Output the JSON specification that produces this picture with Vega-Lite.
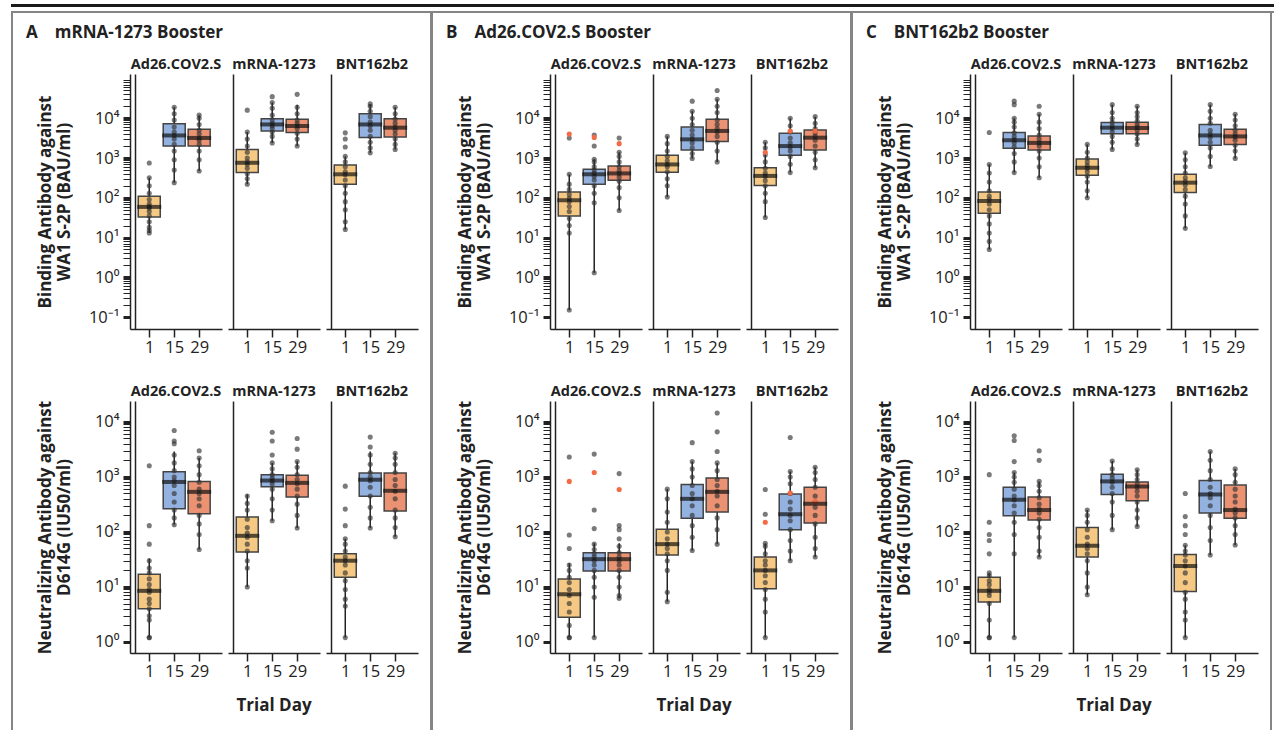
{
"$schema":"https://vega.github.io/schema/vega-lite/v6.json",
"background":"white",
"padding":{"left":11,"top":4,"right":0,"bottom":0},
"datasets":{
"AB":[
{"p":"Ad","d":1,"lo":13,"q1":33,"md":59,"q3":110,"hi":320},
{"p":"Ad","d":15,"lo":240,"q1":2000,"md":3700,"q3":7300,"hi":19000},
{"p":"Ad","d":29,"lo":470,"q1":2000,"md":3200,"q3":5300,"hi":12000},
{"p":"mR","d":1,"lo":220,"q1":430,"md":760,"q3":1650,"hi":4500},
{"p":"mR","d":15,"lo":2400,"q1":4800,"md":7000,"q3":9800,"hi":25000},
{"p":"mR","d":29,"lo":2000,"q1":4400,"md":6400,"q3":9400,"hi":22000},
{"p":"BN","d":1,"lo":16,"q1":220,"md":390,"q3":670,"hi":1100},
{"p":"BN","d":15,"lo":1350,"q1":3300,"md":7000,"q3":13000,"hi":23000},
{"p":"BN","d":29,"lo":1650,"q1":3400,"md":5800,"q3":9800,"hi":19000},
{"p":"Ad","d":1,"v":13,"k":3},{"p":"Ad","d":1,"v":15,"k":6},{"p":"Ad","d":1,"v":18,"k":1},{"p":"Ad","d":1,"v":25,"k":4},{"p":"Ad","d":1,"v":35,"k":0},{"p":"Ad","d":1,"v":45,"k":7},{"p":"Ad","d":1,"v":55,"k":2},{"p":"Ad","d":1,"v":60,"k":5},{"p":"Ad","d":1,"v":70,"k":3},{"p":"Ad","d":1,"v":90,"k":6},{"p":"Ad","d":1,"v":130,"k":1},{"p":"Ad","d":1,"v":200,"k":4},{"p":"Ad","d":1,"v":320,"k":0},{"p":"Ad","d":1,"v":750,"k":7},
{"p":"Ad","d":15,"v":240,"k":3},{"p":"Ad","d":15,"v":500,"k":6},{"p":"Ad","d":15,"v":900,"k":1},{"p":"Ad","d":15,"v":1500,"k":4},{"p":"Ad","d":15,"v":2200,"k":0},{"p":"Ad","d":15,"v":3000,"k":7},{"p":"Ad","d":15,"v":3700,"k":2},{"p":"Ad","d":15,"v":4500,"k":5},{"p":"Ad","d":15,"v":6000,"k":3},{"p":"Ad","d":15,"v":9000,"k":6},{"p":"Ad","d":15,"v":13000,"k":1},{"p":"Ad","d":15,"v":19000,"k":4},
{"p":"Ad","d":29,"v":470,"k":3},{"p":"Ad","d":29,"v":900,"k":6},{"p":"Ad","d":29,"v":1500,"k":1},{"p":"Ad","d":29,"v":2200,"k":4},{"p":"Ad","d":29,"v":2800,"k":0},{"p":"Ad","d":29,"v":3200,"k":7},{"p":"Ad","d":29,"v":4000,"k":2},{"p":"Ad","d":29,"v":5000,"k":5},{"p":"Ad","d":29,"v":7000,"k":3},{"p":"Ad","d":29,"v":10000,"k":6},{"p":"Ad","d":29,"v":12000,"k":1},
{"p":"mR","d":1,"v":220,"k":3},{"p":"mR","d":1,"v":300,"k":6},{"p":"mR","d":1,"v":400,"k":1},{"p":"mR","d":1,"v":550,"k":4},{"p":"mR","d":1,"v":700,"k":0},{"p":"mR","d":1,"v":800,"k":7},{"p":"mR","d":1,"v":1000,"k":2},{"p":"mR","d":1,"v":1400,"k":5},{"p":"mR","d":1,"v":2000,"k":3},{"p":"mR","d":1,"v":3000,"k":6},{"p":"mR","d":1,"v":4500,"k":1},{"p":"mR","d":1,"v":16000,"k":4},
{"p":"mR","d":15,"v":2400,"k":3},{"p":"mR","d":15,"v":3500,"k":6},{"p":"mR","d":15,"v":4500,"k":1},{"p":"mR","d":15,"v":5500,"k":4},{"p":"mR","d":15,"v":6500,"k":0},{"p":"mR","d":15,"v":7500,"k":7},{"p":"mR","d":15,"v":9000,"k":2},{"p":"mR","d":15,"v":12000,"k":5},{"p":"mR","d":15,"v":18000,"k":3},{"p":"mR","d":15,"v":25000,"k":6},{"p":"mR","d":15,"v":35000,"k":1},
{"p":"mR","d":29,"v":2000,"k":3},{"p":"mR","d":29,"v":3000,"k":6},{"p":"mR","d":29,"v":4200,"k":1},{"p":"mR","d":29,"v":5500,"k":4},{"p":"mR","d":29,"v":6500,"k":0},{"p":"mR","d":29,"v":7500,"k":7},{"p":"mR","d":29,"v":9000,"k":2},{"p":"mR","d":29,"v":13000,"k":5},{"p":"mR","d":29,"v":19000,"k":3},{"p":"mR","d":29,"v":40000,"k":6},
{"p":"BN","d":1,"v":16,"k":3},{"p":"BN","d":1,"v":25,"k":6},{"p":"BN","d":1,"v":50,"k":1},{"p":"BN","d":1,"v":80,"k":4},{"p":"BN","d":1,"v":130,"k":0},{"p":"BN","d":1,"v":200,"k":7},{"p":"BN","d":1,"v":280,"k":2},{"p":"BN","d":1,"v":380,"k":5},{"p":"BN","d":1,"v":450,"k":3},{"p":"BN","d":1,"v":600,"k":6},{"p":"BN","d":1,"v":800,"k":1},{"p":"BN","d":1,"v":1100,"k":4},{"p":"BN","d":1,"v":1900,"k":0},{"p":"BN","d":1,"v":3000,"k":7},{"p":"BN","d":1,"v":4300,"k":2},
{"p":"BN","d":15,"v":1350,"k":3},{"p":"BN","d":15,"v":1800,"k":6},{"p":"BN","d":15,"v":2500,"k":1},{"p":"BN","d":15,"v":3500,"k":4},{"p":"BN","d":15,"v":5000,"k":0},{"p":"BN","d":15,"v":6500,"k":7},{"p":"BN","d":15,"v":8000,"k":2},{"p":"BN","d":15,"v":11000,"k":5},{"p":"BN","d":15,"v":15000,"k":3},{"p":"BN","d":15,"v":20000,"k":6},{"p":"BN","d":15,"v":23000,"k":1},
{"p":"BN","d":29,"v":1650,"k":3},{"p":"BN","d":29,"v":2200,"k":6},{"p":"BN","d":29,"v":3000,"k":1},{"p":"BN","d":29,"v":4000,"k":4},{"p":"BN","d":29,"v":5000,"k":0},{"p":"BN","d":29,"v":6000,"k":7},{"p":"BN","d":29,"v":7500,"k":2},{"p":"BN","d":29,"v":9500,"k":5},{"p":"BN","d":29,"v":13000,"k":3},{"p":"BN","d":29,"v":19000,"k":6}
],
"AN":[
{"p":"Ad","d":1,"lo":1.2,"q1":4,"md":8.5,"q3":17,"hi":33},
{"p":"Ad","d":15,"lo":135,"q1":265,"md":810,"q3":1240,"hi":2900},
{"p":"Ad","d":29,"lo":48,"q1":215,"md":535,"q3":830,"hi":2200},
{"p":"mR","d":1,"lo":10,"q1":43,"md":85,"q3":187,"hi":480},
{"p":"mR","d":15,"lo":160,"q1":660,"md":860,"q3":1100,"hi":1800},
{"p":"mR","d":29,"lo":118,"q1":430,"md":780,"q3":1070,"hi":1900},
{"p":"BN","d":1,"lo":1.2,"q1":15,"md":30,"q3":40,"hi":75},
{"p":"BN","d":15,"lo":118,"q1":445,"md":890,"q3":1180,"hi":2900},
{"p":"BN","d":29,"lo":82,"q1":240,"md":560,"q3":1180,"hi":2700},
{"p":"Ad","d":1,"v":1.2,"k":3},{"p":"Ad","d":1,"v":1.2,"k":6},{"p":"Ad","d":1,"v":2.5,"k":1},{"p":"Ad","d":1,"v":3,"k":4},{"p":"Ad","d":1,"v":4,"k":0},{"p":"Ad","d":1,"v":5,"k":7},{"p":"Ad","d":1,"v":6,"k":2},{"p":"Ad","d":1,"v":8,"k":5},{"p":"Ad","d":1,"v":9,"k":3},{"p":"Ad","d":1,"v":11,"k":6},{"p":"Ad","d":1,"v":14,"k":1},{"p":"Ad","d":1,"v":18,"k":4},{"p":"Ad","d":1,"v":22,"k":0},{"p":"Ad","d":1,"v":30,"k":7},{"p":"Ad","d":1,"v":60,"k":2},{"p":"Ad","d":1,"v":130,"k":5},{"p":"Ad","d":1,"v":1600,"k":3},
{"p":"Ad","d":15,"v":135,"k":3},{"p":"Ad","d":15,"v":180,"k":6},{"p":"Ad","d":15,"v":250,"k":1},{"p":"Ad","d":15,"v":350,"k":4},{"p":"Ad","d":15,"v":500,"k":0},{"p":"Ad","d":15,"v":700,"k":7},{"p":"Ad","d":15,"v":850,"k":2},{"p":"Ad","d":15,"v":1000,"k":5},{"p":"Ad","d":15,"v":1300,"k":3},{"p":"Ad","d":15,"v":1800,"k":6},{"p":"Ad","d":15,"v":2500,"k":1},{"p":"Ad","d":15,"v":4000,"k":4},{"p":"Ad","d":15,"v":4500,"k":0},{"p":"Ad","d":15,"v":7000,"k":7},
{"p":"Ad","d":29,"v":48,"k":3},{"p":"Ad","d":29,"v":90,"k":6},{"p":"Ad","d":29,"v":140,"k":1},{"p":"Ad","d":29,"v":200,"k":4},{"p":"Ad","d":29,"v":300,"k":0},{"p":"Ad","d":29,"v":400,"k":7},{"p":"Ad","d":29,"v":500,"k":2},{"p":"Ad","d":29,"v":600,"k":5},{"p":"Ad","d":29,"v":800,"k":3},{"p":"Ad","d":29,"v":1100,"k":6},{"p":"Ad","d":29,"v":1600,"k":1},{"p":"Ad","d":29,"v":2200,"k":4},{"p":"Ad","d":29,"v":3000,"k":0},
{"p":"mR","d":1,"v":10,"k":3},{"p":"mR","d":1,"v":22,"k":6},{"p":"mR","d":1,"v":30,"k":1},{"p":"mR","d":1,"v":45,"k":4},{"p":"mR","d":1,"v":60,"k":0},{"p":"mR","d":1,"v":80,"k":7},{"p":"mR","d":1,"v":95,"k":2},{"p":"mR","d":1,"v":120,"k":5},{"p":"mR","d":1,"v":170,"k":3},{"p":"mR","d":1,"v":250,"k":6},{"p":"mR","d":1,"v":330,"k":1},{"p":"mR","d":1,"v":450,"k":4},
{"p":"mR","d":15,"v":160,"k":3},{"p":"mR","d":15,"v":250,"k":6},{"p":"mR","d":15,"v":400,"k":1},{"p":"mR","d":15,"v":600,"k":4},{"p":"mR","d":15,"v":750,"k":0},{"p":"mR","d":15,"v":850,"k":7},{"p":"mR","d":15,"v":950,"k":2},{"p":"mR","d":15,"v":1100,"k":5},{"p":"mR","d":15,"v":1400,"k":3},{"p":"mR","d":15,"v":1800,"k":6},{"p":"mR","d":15,"v":2500,"k":1},{"p":"mR","d":15,"v":4500,"k":4},{"p":"mR","d":15,"v":6500,"k":0},
{"p":"mR","d":29,"v":118,"k":3},{"p":"mR","d":29,"v":200,"k":6},{"p":"mR","d":29,"v":320,"k":1},{"p":"mR","d":29,"v":450,"k":4},{"p":"mR","d":29,"v":600,"k":0},{"p":"mR","d":29,"v":750,"k":7},{"p":"mR","d":29,"v":900,"k":2},{"p":"mR","d":29,"v":1100,"k":5},{"p":"mR","d":29,"v":1500,"k":3},{"p":"mR","d":29,"v":1900,"k":6},{"p":"mR","d":29,"v":3200,"k":1},{"p":"mR","d":29,"v":5000,"k":4},
{"p":"BN","d":1,"v":1.2,"k":3},{"p":"BN","d":1,"v":4.5,"k":6},{"p":"BN","d":1,"v":6,"k":1},{"p":"BN","d":1,"v":9,"k":4},{"p":"BN","d":1,"v":13,"k":0},{"p":"BN","d":1,"v":18,"k":7},{"p":"BN","d":1,"v":25,"k":2},{"p":"BN","d":1,"v":30,"k":5},{"p":"BN","d":1,"v":35,"k":3},{"p":"BN","d":1,"v":45,"k":6},{"p":"BN","d":1,"v":60,"k":1},{"p":"BN","d":1,"v":75,"k":4},{"p":"BN","d":1,"v":130,"k":0},{"p":"BN","d":1,"v":260,"k":7},{"p":"BN","d":1,"v":680,"k":2},
{"p":"BN","d":15,"v":118,"k":3},{"p":"BN","d":15,"v":180,"k":6},{"p":"BN","d":15,"v":280,"k":1},{"p":"BN","d":15,"v":450,"k":4},{"p":"BN","d":15,"v":650,"k":0},{"p":"BN","d":15,"v":850,"k":7},{"p":"BN","d":15,"v":1000,"k":2},{"p":"BN","d":15,"v":1200,"k":5},{"p":"BN","d":15,"v":1700,"k":3},{"p":"BN","d":15,"v":2500,"k":6},{"p":"BN","d":15,"v":3500,"k":1},{"p":"BN","d":15,"v":5300,"k":4},
{"p":"BN","d":29,"v":82,"k":3},{"p":"BN","d":29,"v":120,"k":6},{"p":"BN","d":29,"v":180,"k":1},{"p":"BN","d":29,"v":250,"k":4},{"p":"BN","d":29,"v":400,"k":0},{"p":"BN","d":29,"v":550,"k":7},{"p":"BN","d":29,"v":700,"k":2},{"p":"BN","d":29,"v":900,"k":5},{"p":"BN","d":29,"v":1200,"k":3},{"p":"BN","d":29,"v":1700,"k":6},{"p":"BN","d":29,"v":2200,"k":1},{"p":"BN","d":29,"v":2700,"k":4}
],
"BB":[
{"p":"Ad","d":1,"lo":0.15,"q1":35,"md":87,"q3":140,"hi":390},
{"p":"Ad","d":15,"lo":1.3,"q1":220,"md":390,"q3":520,"hi":930},
{"p":"Ad","d":29,"lo":48,"q1":275,"md":410,"q3":630,"hi":1400},
{"p":"mR","d":1,"lo":105,"q1":440,"md":690,"q3":1170,"hi":3500},
{"p":"mR","d":15,"lo":980,"q1":1600,"md":2950,"q3":6000,"hi":15000},
{"p":"mR","d":29,"lo":800,"q1":2600,"md":4800,"q3":9400,"hi":30000},
{"p":"BN","d":1,"lo":32,"q1":205,"md":355,"q3":570,"hi":2500},
{"p":"BN","d":15,"lo":430,"q1":1170,"md":2000,"q3":4200,"hi":10000},
{"p":"BN","d":29,"lo":570,"q1":1600,"md":3250,"q3":5100,"hi":11000},
{"p":"Ad","d":1,"v":0.15,"k":3},{"p":"Ad","d":1,"v":13,"k":6},{"p":"Ad","d":1,"v":20,"k":1},{"p":"Ad","d":1,"v":30,"k":4},{"p":"Ad","d":1,"v":45,"k":0},{"p":"Ad","d":1,"v":60,"k":7},{"p":"Ad","d":1,"v":80,"k":2},{"p":"Ad","d":1,"v":95,"k":5},{"p":"Ad","d":1,"v":120,"k":3},{"p":"Ad","d":1,"v":160,"k":6},{"p":"Ad","d":1,"v":220,"k":1},{"p":"Ad","d":1,"v":390,"k":4},{"p":"Ad","d":1,"v":3200,"k":3},{"p":"Ad","d":1,"v":4000,"k":2,"r":1},
{"p":"Ad","d":15,"v":1.3,"k":3},{"p":"Ad","d":15,"v":75,"k":6},{"p":"Ad","d":15,"v":130,"k":1},{"p":"Ad","d":15,"v":200,"k":4},{"p":"Ad","d":15,"v":280,"k":0},{"p":"Ad","d":15,"v":350,"k":7},{"p":"Ad","d":15,"v":420,"k":2},{"p":"Ad","d":15,"v":500,"k":5},{"p":"Ad","d":15,"v":600,"k":3},{"p":"Ad","d":15,"v":800,"k":6},{"p":"Ad","d":15,"v":930,"k":1},{"p":"Ad","d":15,"v":2000,"k":4},{"p":"Ad","d":15,"v":3800,"k":3},{"p":"Ad","d":15,"v":3300,"k":5,"r":1},
{"p":"Ad","d":29,"v":48,"k":3},{"p":"Ad","d":29,"v":100,"k":6},{"p":"Ad","d":29,"v":180,"k":1},{"p":"Ad","d":29,"v":260,"k":4},{"p":"Ad","d":29,"v":330,"k":0},{"p":"Ad","d":29,"v":400,"k":7},{"p":"Ad","d":29,"v":480,"k":2},{"p":"Ad","d":29,"v":600,"k":5},{"p":"Ad","d":29,"v":800,"k":3},{"p":"Ad","d":29,"v":1100,"k":6},{"p":"Ad","d":29,"v":1400,"k":1},{"p":"Ad","d":29,"v":3200,"k":4},{"p":"Ad","d":29,"v":2300,"k":2,"r":1},
{"p":"mR","d":1,"v":105,"k":3},{"p":"mR","d":1,"v":200,"k":6},{"p":"mR","d":1,"v":300,"k":1},{"p":"mR","d":1,"v":450,"k":4},{"p":"mR","d":1,"v":600,"k":0},{"p":"mR","d":1,"v":700,"k":7},{"p":"mR","d":1,"v":850,"k":2},{"p":"mR","d":1,"v":1100,"k":5},{"p":"mR","d":1,"v":1500,"k":3},{"p":"mR","d":1,"v":2300,"k":6},{"p":"mR","d":1,"v":3500,"k":1},
{"p":"mR","d":15,"v":980,"k":3},{"p":"mR","d":15,"v":1300,"k":6},{"p":"mR","d":15,"v":1800,"k":1},{"p":"mR","d":15,"v":2400,"k":4},{"p":"mR","d":15,"v":3000,"k":0},{"p":"mR","d":15,"v":3800,"k":7},{"p":"mR","d":15,"v":5000,"k":2},{"p":"mR","d":15,"v":7000,"k":5},{"p":"mR","d":15,"v":10000,"k":3},{"p":"mR","d":15,"v":15000,"k":6},{"p":"mR","d":15,"v":27000,"k":1},
{"p":"mR","d":29,"v":800,"k":3},{"p":"mR","d":29,"v":1500,"k":6},{"p":"mR","d":29,"v":2500,"k":1},{"p":"mR","d":29,"v":3500,"k":4},{"p":"mR","d":29,"v":4500,"k":0},{"p":"mR","d":29,"v":5500,"k":7},{"p":"mR","d":29,"v":7000,"k":2},{"p":"mR","d":29,"v":9000,"k":5},{"p":"mR","d":29,"v":14000,"k":3},{"p":"mR","d":29,"v":20000,"k":6},{"p":"mR","d":29,"v":30000,"k":1},{"p":"mR","d":29,"v":50000,"k":4},
{"p":"BN","d":1,"v":32,"k":3},{"p":"BN","d":1,"v":80,"k":6},{"p":"BN","d":1,"v":130,"k":1},{"p":"BN","d":1,"v":200,"k":4},{"p":"BN","d":1,"v":270,"k":0},{"p":"BN","d":1,"v":350,"k":7},{"p":"BN","d":1,"v":420,"k":2},{"p":"BN","d":1,"v":550,"k":5},{"p":"BN","d":1,"v":800,"k":3},{"p":"BN","d":1,"v":1200,"k":6},{"p":"BN","d":1,"v":1800,"k":1},{"p":"BN","d":1,"v":2500,"k":4},{"p":"BN","d":1,"v":1400,"k":0,"r":1},
{"p":"BN","d":15,"v":430,"k":3},{"p":"BN","d":15,"v":700,"k":6},{"p":"BN","d":15,"v":1100,"k":1},{"p":"BN","d":15,"v":1500,"k":4},{"p":"BN","d":15,"v":1900,"k":0},{"p":"BN","d":15,"v":2400,"k":7},{"p":"BN","d":15,"v":3200,"k":2},{"p":"BN","d":15,"v":4500,"k":5},{"p":"BN","d":15,"v":6500,"k":3},{"p":"BN","d":15,"v":10000,"k":6},{"p":"BN","d":15,"v":4800,"k":1,"r":1},
{"p":"BN","d":29,"v":570,"k":3},{"p":"BN","d":29,"v":900,"k":6},{"p":"BN","d":29,"v":1400,"k":1},{"p":"BN","d":29,"v":2000,"k":4},{"p":"BN","d":29,"v":2800,"k":0},{"p":"BN","d":29,"v":3500,"k":7},{"p":"BN","d":29,"v":4300,"k":2},{"p":"BN","d":29,"v":5500,"k":5},{"p":"BN","d":29,"v":7500,"k":3},{"p":"BN","d":29,"v":11000,"k":6},{"p":"BN","d":29,"v":4800,"k":4,"r":1}
],
"BN":[
{"p":"Ad","d":1,"lo":1.2,"q1":2.8,"md":7.4,"q3":14,"hi":27},
{"p":"Ad","d":15,"lo":1.2,"q1":19.5,"md":32,"q3":42,"hi":62},
{"p":"Ad","d":29,"lo":6.2,"q1":19.5,"md":32,"q3":42,"hi":62},
{"p":"mR","d":1,"lo":5.4,"q1":38,"md":60,"q3":112,"hi":600},
{"p":"mR","d":15,"lo":46,"q1":178,"md":400,"q3":730,"hi":1900},
{"p":"mR","d":29,"lo":60,"q1":230,"md":535,"q3":960,"hi":1800},
{"p":"BN","d":1,"lo":1.2,"q1":9.3,"md":20,"q3":35,"hi":62},
{"p":"BN","d":15,"lo":30,"q1":110,"md":210,"q3":490,"hi":1250},
{"p":"BN","d":29,"lo":35,"q1":145,"md":325,"q3":650,"hi":1500},
{"p":"Ad","d":1,"v":1.2,"k":3},{"p":"Ad","d":1,"v":1.2,"k":6},{"p":"Ad","d":1,"v":2,"k":1},{"p":"Ad","d":1,"v":3.5,"k":4},{"p":"Ad","d":1,"v":5,"k":0},{"p":"Ad","d":1,"v":7,"k":7},{"p":"Ad","d":1,"v":9,"k":2},{"p":"Ad","d":1,"v":12,"k":5},{"p":"Ad","d":1,"v":15,"k":3},{"p":"Ad","d":1,"v":20,"k":6},{"p":"Ad","d":1,"v":25,"k":1},{"p":"Ad","d":1,"v":50,"k":4},{"p":"Ad","d":1,"v":88,"k":0},{"p":"Ad","d":1,"v":2300,"k":7},{"p":"Ad","d":1,"v":830,"k":2,"r":1},
{"p":"Ad","d":15,"v":1.2,"k":3},{"p":"Ad","d":15,"v":6.5,"k":6},{"p":"Ad","d":15,"v":10,"k":1},{"p":"Ad","d":15,"v":15,"k":4},{"p":"Ad","d":15,"v":20,"k":0},{"p":"Ad","d":15,"v":25,"k":7},{"p":"Ad","d":15,"v":30,"k":2},{"p":"Ad","d":15,"v":35,"k":5},{"p":"Ad","d":15,"v":40,"k":3},{"p":"Ad","d":15,"v":48,"k":6},{"p":"Ad","d":15,"v":60,"k":1},{"p":"Ad","d":15,"v":115,"k":4},{"p":"Ad","d":15,"v":250,"k":0},{"p":"Ad","d":15,"v":2600,"k":7},{"p":"Ad","d":15,"v":1200,"k":2,"r":1},
{"p":"Ad","d":29,"v":6.2,"k":3},{"p":"Ad","d":29,"v":7,"k":6},{"p":"Ad","d":29,"v":10,"k":1},{"p":"Ad","d":29,"v":15,"k":4},{"p":"Ad","d":29,"v":20,"k":0},{"p":"Ad","d":29,"v":25,"k":7},{"p":"Ad","d":29,"v":30,"k":2},{"p":"Ad","d":29,"v":35,"k":5},{"p":"Ad","d":29,"v":42,"k":3},{"p":"Ad","d":29,"v":55,"k":6},{"p":"Ad","d":29,"v":75,"k":1},{"p":"Ad","d":29,"v":110,"k":4},{"p":"Ad","d":29,"v":130,"k":0},{"p":"Ad","d":29,"v":1150,"k":7},{"p":"Ad","d":29,"v":590,"k":2,"r":1},
{"p":"mR","d":1,"v":5.4,"k":3},{"p":"mR","d":1,"v":8,"k":6},{"p":"mR","d":1,"v":20,"k":1},{"p":"mR","d":1,"v":30,"k":4},{"p":"mR","d":1,"v":40,"k":0},{"p":"mR","d":1,"v":50,"k":7},{"p":"mR","d":1,"v":60,"k":2},{"p":"mR","d":1,"v":75,"k":5},{"p":"mR","d":1,"v":100,"k":3},{"p":"mR","d":1,"v":150,"k":6},{"p":"mR","d":1,"v":230,"k":1},{"p":"mR","d":1,"v":400,"k":4},{"p":"mR","d":1,"v":600,"k":0},
{"p":"mR","d":15,"v":46,"k":3},{"p":"mR","d":15,"v":80,"k":6},{"p":"mR","d":15,"v":130,"k":1},{"p":"mR","d":15,"v":200,"k":4},{"p":"mR","d":15,"v":300,"k":0},{"p":"mR","d":15,"v":400,"k":7},{"p":"mR","d":15,"v":500,"k":2},{"p":"mR","d":15,"v":700,"k":5},{"p":"mR","d":15,"v":1000,"k":3},{"p":"mR","d":15,"v":1400,"k":6},{"p":"mR","d":15,"v":1900,"k":1},{"p":"mR","d":15,"v":4200,"k":4},
{"p":"mR","d":29,"v":60,"k":3},{"p":"mR","d":29,"v":110,"k":6},{"p":"mR","d":29,"v":180,"k":1},{"p":"mR","d":29,"v":300,"k":4},{"p":"mR","d":29,"v":450,"k":0},{"p":"mR","d":29,"v":550,"k":7},{"p":"mR","d":29,"v":700,"k":2},{"p":"mR","d":29,"v":900,"k":5},{"p":"mR","d":29,"v":1300,"k":3},{"p":"mR","d":29,"v":1800,"k":6},{"p":"mR","d":29,"v":2900,"k":1},{"p":"mR","d":29,"v":6600,"k":4},{"p":"mR","d":29,"v":14500,"k":0},
{"p":"BN","d":1,"v":1.2,"k":3},{"p":"BN","d":1,"v":3.5,"k":6},{"p":"BN","d":1,"v":6,"k":1},{"p":"BN","d":1,"v":9,"k":4},{"p":"BN","d":1,"v":12,"k":0},{"p":"BN","d":1,"v":16,"k":7},{"p":"BN","d":1,"v":20,"k":2},{"p":"BN","d":1,"v":25,"k":5},{"p":"BN","d":1,"v":30,"k":3},{"p":"BN","d":1,"v":40,"k":6},{"p":"BN","d":1,"v":55,"k":1},{"p":"BN","d":1,"v":62,"k":4},{"p":"BN","d":1,"v":210,"k":0},{"p":"BN","d":1,"v":590,"k":7},{"p":"BN","d":1,"v":150,"k":2,"r":1},
{"p":"BN","d":15,"v":30,"k":3},{"p":"BN","d":15,"v":45,"k":6},{"p":"BN","d":15,"v":70,"k":1},{"p":"BN","d":15,"v":110,"k":4},{"p":"BN","d":15,"v":160,"k":0},{"p":"BN","d":15,"v":200,"k":7},{"p":"BN","d":15,"v":260,"k":2},{"p":"BN","d":15,"v":350,"k":5},{"p":"BN","d":15,"v":500,"k":3},{"p":"BN","d":15,"v":750,"k":6},{"p":"BN","d":15,"v":1000,"k":1},{"p":"BN","d":15,"v":1250,"k":4},{"p":"BN","d":15,"v":5200,"k":0},{"p":"BN","d":15,"v":510,"k":7,"r":1},
{"p":"BN","d":29,"v":35,"k":3},{"p":"BN","d":29,"v":50,"k":6},{"p":"BN","d":29,"v":80,"k":1},{"p":"BN","d":29,"v":140,"k":4},{"p":"BN","d":29,"v":200,"k":0},{"p":"BN","d":29,"v":280,"k":7},{"p":"BN","d":29,"v":350,"k":2},{"p":"BN","d":29,"v":450,"k":5},{"p":"BN","d":29,"v":650,"k":3},{"p":"BN","d":29,"v":900,"k":6},{"p":"BN","d":29,"v":1200,"k":1},{"p":"BN","d":29,"v":1500,"k":4},{"p":"BN","d":29,"v":355,"k":0,"r":1}
],
"CB":[
{"p":"Ad","d":1,"lo":5,"q1":41,"md":83,"q3":140,"hi":690},
{"p":"Ad","d":15,"lo":430,"q1":1750,"md":2800,"q3":4400,"hi":10000},
{"p":"Ad","d":29,"lo":320,"q1":1600,"md":2400,"q3":3600,"hi":12600},
{"p":"mR","d":1,"lo":100,"q1":370,"md":570,"q3":940,"hi":2200},
{"p":"mR","d":15,"lo":1650,"q1":4100,"md":5800,"q3":7800,"hi":22000},
{"p":"mR","d":29,"lo":2200,"q1":4100,"md":5700,"q3":7900,"hi":20000},
{"p":"BN","d":1,"lo":17,"q1":135,"md":240,"q3":390,"hi":1350},
{"p":"BN","d":15,"lo":610,"q1":2100,"md":3700,"q3":7000,"hi":22000},
{"p":"BN","d":29,"lo":980,"q1":2200,"md":3500,"q3":5300,"hi":12600},
{"p":"Ad","d":1,"v":5,"k":3},{"p":"Ad","d":1,"v":8,"k":6},{"p":"Ad","d":1,"v":13,"k":1},{"p":"Ad","d":1,"v":22,"k":4},{"p":"Ad","d":1,"v":35,"k":0},{"p":"Ad","d":1,"v":50,"k":7},{"p":"Ad","d":1,"v":70,"k":2},{"p":"Ad","d":1,"v":90,"k":5},{"p":"Ad","d":1,"v":110,"k":3},{"p":"Ad","d":1,"v":150,"k":6},{"p":"Ad","d":1,"v":250,"k":1},{"p":"Ad","d":1,"v":420,"k":4},{"p":"Ad","d":1,"v":690,"k":0},{"p":"Ad","d":1,"v":4400,"k":7},
{"p":"Ad","d":15,"v":430,"k":3},{"p":"Ad","d":15,"v":800,"k":6},{"p":"Ad","d":15,"v":1300,"k":1},{"p":"Ad","d":15,"v":1900,"k":4},{"p":"Ad","d":15,"v":2400,"k":0},{"p":"Ad","d":15,"v":2900,"k":7},{"p":"Ad","d":15,"v":3500,"k":2},{"p":"Ad","d":15,"v":4300,"k":5},{"p":"Ad","d":15,"v":6000,"k":3},{"p":"Ad","d":15,"v":8000,"k":6},{"p":"Ad","d":15,"v":10000,"k":1},{"p":"Ad","d":15,"v":22000,"k":4},{"p":"Ad","d":15,"v":27000,"k":0},
{"p":"Ad","d":29,"v":320,"k":3},{"p":"Ad","d":29,"v":600,"k":6},{"p":"Ad","d":29,"v":1000,"k":1},{"p":"Ad","d":29,"v":1500,"k":4},{"p":"Ad","d":29,"v":2000,"k":0},{"p":"Ad","d":29,"v":2400,"k":7},{"p":"Ad","d":29,"v":3000,"k":2},{"p":"Ad","d":29,"v":3800,"k":5},{"p":"Ad","d":29,"v":5500,"k":3},{"p":"Ad","d":29,"v":8000,"k":6},{"p":"Ad","d":29,"v":12600,"k":1},{"p":"Ad","d":29,"v":20000,"k":4},
{"p":"mR","d":1,"v":100,"k":3},{"p":"mR","d":1,"v":150,"k":6},{"p":"mR","d":1,"v":250,"k":1},{"p":"mR","d":1,"v":350,"k":4},{"p":"mR","d":1,"v":450,"k":0},{"p":"mR","d":1,"v":550,"k":7},{"p":"mR","d":1,"v":650,"k":2},{"p":"mR","d":1,"v":800,"k":5},{"p":"mR","d":1,"v":1000,"k":3},{"p":"mR","d":1,"v":1400,"k":6},{"p":"mR","d":1,"v":2200,"k":1},
{"p":"mR","d":15,"v":1650,"k":3},{"p":"mR","d":15,"v":2500,"k":6},{"p":"mR","d":15,"v":3500,"k":1},{"p":"mR","d":15,"v":4500,"k":4},{"p":"mR","d":15,"v":5500,"k":0},{"p":"mR","d":15,"v":6500,"k":7},{"p":"mR","d":15,"v":8000,"k":2},{"p":"mR","d":15,"v":10000,"k":5},{"p":"mR","d":15,"v":14000,"k":3},{"p":"mR","d":15,"v":22000,"k":6},
{"p":"mR","d":29,"v":2200,"k":3},{"p":"mR","d":29,"v":3000,"k":6},{"p":"mR","d":29,"v":4000,"k":1},{"p":"mR","d":29,"v":5000,"k":4},{"p":"mR","d":29,"v":6000,"k":0},{"p":"mR","d":29,"v":7000,"k":7},{"p":"mR","d":29,"v":8500,"k":2},{"p":"mR","d":29,"v":11000,"k":5},{"p":"mR","d":29,"v":14000,"k":3},{"p":"mR","d":29,"v":20000,"k":6},
{"p":"BN","d":1,"v":17,"k":3},{"p":"BN","d":1,"v":35,"k":6},{"p":"BN","d":1,"v":70,"k":1},{"p":"BN","d":1,"v":110,"k":4},{"p":"BN","d":1,"v":160,"k":0},{"p":"BN","d":1,"v":210,"k":7},{"p":"BN","d":1,"v":260,"k":2},{"p":"BN","d":1,"v":320,"k":5},{"p":"BN","d":1,"v":420,"k":3},{"p":"BN","d":1,"v":600,"k":6},{"p":"BN","d":1,"v":900,"k":1},{"p":"BN","d":1,"v":1350,"k":4},
{"p":"BN","d":15,"v":610,"k":3},{"p":"BN","d":15,"v":1100,"k":6},{"p":"BN","d":15,"v":1800,"k":1},{"p":"BN","d":15,"v":2500,"k":4},{"p":"BN","d":15,"v":3300,"k":0},{"p":"BN","d":15,"v":4000,"k":7},{"p":"BN","d":15,"v":5000,"k":2},{"p":"BN","d":15,"v":7500,"k":5},{"p":"BN","d":15,"v":10000,"k":3},{"p":"BN","d":15,"v":15000,"k":6},{"p":"BN","d":15,"v":22000,"k":1},
{"p":"BN","d":29,"v":980,"k":3},{"p":"BN","d":29,"v":1500,"k":6},{"p":"BN","d":29,"v":2100,"k":1},{"p":"BN","d":29,"v":2800,"k":4},{"p":"BN","d":29,"v":3400,"k":0},{"p":"BN","d":29,"v":4000,"k":7},{"p":"BN","d":29,"v":5000,"k":2},{"p":"BN","d":29,"v":6500,"k":5},{"p":"BN","d":29,"v":9000,"k":3},{"p":"BN","d":29,"v":12600,"k":6}
],
"CN":[
{"p":"Ad","d":1,"lo":1.2,"q1":5.3,"md":8.5,"q3":15,"hi":18},
{"p":"Ad","d":15,"lo":1.2,"q1":196,"md":385,"q3":650,"hi":1200},
{"p":"Ad","d":29,"lo":35,"q1":165,"md":250,"q3":430,"hi":830},
{"p":"mR","d":1,"lo":7.2,"q1":35,"md":56,"q3":120,"hi":250},
{"p":"mR","d":15,"lo":110,"q1":480,"md":830,"q3":1120,"hi":1950},
{"p":"mR","d":29,"lo":126,"q1":370,"md":670,"q3":810,"hi":1350},
{"p":"BN","d":1,"lo":1.2,"q1":8.3,"md":24,"q3":39,"hi":57},
{"p":"BN","d":15,"lo":38,"q1":220,"md":480,"q3":860,"hi":2900},
{"p":"BN","d":29,"lo":58,"q1":178,"md":250,"q3":710,"hi":1400},
{"p":"Ad","d":1,"v":1.2,"k":3},{"p":"Ad","d":1,"v":1.2,"k":6},{"p":"Ad","d":1,"v":2.5,"k":1},{"p":"Ad","d":1,"v":5,"k":4},{"p":"Ad","d":1,"v":7,"k":0},{"p":"Ad","d":1,"v":8,"k":7},{"p":"Ad","d":1,"v":9,"k":2},{"p":"Ad","d":1,"v":11,"k":5},{"p":"Ad","d":1,"v":13,"k":3},{"p":"Ad","d":1,"v":16,"k":6},{"p":"Ad","d":1,"v":18,"k":1},{"p":"Ad","d":1,"v":40,"k":4},{"p":"Ad","d":1,"v":70,"k":0},{"p":"Ad","d":1,"v":90,"k":7},{"p":"Ad","d":1,"v":150,"k":2},{"p":"Ad","d":1,"v":1100,"k":5},
{"p":"Ad","d":15,"v":1.2,"k":3},{"p":"Ad","d":15,"v":40,"k":6},{"p":"Ad","d":15,"v":90,"k":1},{"p":"Ad","d":15,"v":150,"k":4},{"p":"Ad","d":15,"v":220,"k":0},{"p":"Ad","d":15,"v":300,"k":7},{"p":"Ad","d":15,"v":380,"k":2},{"p":"Ad","d":15,"v":450,"k":5},{"p":"Ad","d":15,"v":600,"k":3},{"p":"Ad","d":15,"v":800,"k":6},{"p":"Ad","d":15,"v":1000,"k":1},{"p":"Ad","d":15,"v":1200,"k":4},{"p":"Ad","d":15,"v":1900,"k":0},{"p":"Ad","d":15,"v":4600,"k":7},{"p":"Ad","d":15,"v":5600,"k":2},
{"p":"Ad","d":29,"v":35,"k":3},{"p":"Ad","d":29,"v":45,"k":6},{"p":"Ad","d":29,"v":80,"k":1},{"p":"Ad","d":29,"v":120,"k":4},{"p":"Ad","d":29,"v":170,"k":0},{"p":"Ad","d":29,"v":220,"k":7},{"p":"Ad","d":29,"v":260,"k":2},{"p":"Ad","d":29,"v":320,"k":5},{"p":"Ad","d":29,"v":420,"k":3},{"p":"Ad","d":29,"v":550,"k":6},{"p":"Ad","d":29,"v":700,"k":1},{"p":"Ad","d":29,"v":830,"k":4},{"p":"Ad","d":29,"v":2000,"k":0},{"p":"Ad","d":29,"v":3000,"k":7},
{"p":"mR","d":1,"v":7.2,"k":3},{"p":"mR","d":1,"v":10,"k":6},{"p":"mR","d":1,"v":18,"k":1},{"p":"mR","d":1,"v":30,"k":4},{"p":"mR","d":1,"v":40,"k":0},{"p":"mR","d":1,"v":50,"k":7},{"p":"mR","d":1,"v":60,"k":2},{"p":"mR","d":1,"v":80,"k":5},{"p":"mR","d":1,"v":110,"k":3},{"p":"mR","d":1,"v":150,"k":6},{"p":"mR","d":1,"v":200,"k":1},{"p":"mR","d":1,"v":250,"k":4},
{"p":"mR","d":15,"v":110,"k":3},{"p":"mR","d":15,"v":200,"k":6},{"p":"mR","d":15,"v":350,"k":1},{"p":"mR","d":15,"v":500,"k":4},{"p":"mR","d":15,"v":650,"k":0},{"p":"mR","d":15,"v":800,"k":7},{"p":"mR","d":15,"v":950,"k":2},{"p":"mR","d":15,"v":1100,"k":5},{"p":"mR","d":15,"v":1400,"k":3},{"p":"mR","d":15,"v":1950,"k":6},
{"p":"mR","d":29,"v":126,"k":3},{"p":"mR","d":29,"v":180,"k":6},{"p":"mR","d":29,"v":250,"k":1},{"p":"mR","d":29,"v":350,"k":4},{"p":"mR","d":29,"v":450,"k":0},{"p":"mR","d":29,"v":550,"k":7},{"p":"mR","d":29,"v":650,"k":2},{"p":"mR","d":29,"v":750,"k":5},{"p":"mR","d":29,"v":900,"k":3},{"p":"mR","d":29,"v":1100,"k":6},{"p":"mR","d":29,"v":1350,"k":1},
{"p":"BN","d":1,"v":1.2,"k":3},{"p":"BN","d":1,"v":2.5,"k":6},{"p":"BN","d":1,"v":3.5,"k":1},{"p":"BN","d":1,"v":6,"k":4},{"p":"BN","d":1,"v":8,"k":0},{"p":"BN","d":1,"v":12,"k":7},{"p":"BN","d":1,"v":18,"k":2},{"p":"BN","d":1,"v":24,"k":5},{"p":"BN","d":1,"v":30,"k":3},{"p":"BN","d":1,"v":38,"k":6},{"p":"BN","d":1,"v":45,"k":1},{"p":"BN","d":1,"v":57,"k":4},{"p":"BN","d":1,"v":90,"k":0},{"p":"BN","d":1,"v":130,"k":7},{"p":"BN","d":1,"v":190,"k":2},{"p":"BN","d":1,"v":500,"k":5},
{"p":"BN","d":15,"v":38,"k":3},{"p":"BN","d":15,"v":70,"k":6},{"p":"BN","d":15,"v":120,"k":1},{"p":"BN","d":15,"v":200,"k":4},{"p":"BN","d":15,"v":300,"k":0},{"p":"BN","d":15,"v":420,"k":7},{"p":"BN","d":15,"v":500,"k":2},{"p":"BN","d":15,"v":650,"k":5},{"p":"BN","d":15,"v":900,"k":3},{"p":"BN","d":15,"v":1300,"k":6},{"p":"BN","d":15,"v":2000,"k":1},{"p":"BN","d":15,"v":2900,"k":4},
{"p":"BN","d":29,"v":58,"k":3},{"p":"BN","d":29,"v":90,"k":6},{"p":"BN","d":29,"v":130,"k":1},{"p":"BN","d":29,"v":180,"k":4},{"p":"BN","d":29,"v":220,"k":0},{"p":"BN","d":29,"v":260,"k":7},{"p":"BN","d":29,"v":350,"k":2},{"p":"BN","d":29,"v":450,"k":5},{"p":"BN","d":29,"v":600,"k":3},{"p":"BN","d":29,"v":800,"k":6},{"p":"BN","d":29,"v":1100,"k":1},{"p":"BN","d":29,"v":1400,"k":4}
]
},
"spacing":0,
"vconcat":[
{"spacing":4,"vconcat":[
{"width":1263,"height":3,"data":{"values":[{}]},"mark":{"type":"point","opacity":0,"size":0,"strokeWidth":0},"encoding":{},"view":{"fill":"#1a1a1a","stroke":null}},
{"width":1263,"height":2,"data":{"values":[{}]},"mark":{"type":"point","opacity":0,"size":0,"strokeWidth":0},"encoding":{},"view":{"fill":"#858585","stroke":null}}
]},
{"spacing":12,"hconcat":[
{"width":2,"height":720,"data":{"values":[{}]},"mark":{"type":"point","opacity":0,"size":0,"strokeWidth":0},"encoding":{},"view":{"fill":"#858585","stroke":null}},
{"spacing":0,"vconcat":[
{"width":1,"height":10,"data":{"values":[{}]},"mark":{"type":"point","opacity":0,"size":0,"strokeWidth":0},"encoding":{}},
{"title":{"text":"A\u2003mRNA-1273 Booster"},"spacing":27,"vconcat":[
{"data":{"name":"AB"},"spacing":6,"facet":{"column":{"field":"p","type":"nominal","sort":["Ad","mR","BN"],"title":null,"header":{"labelExpr":"datum.value=='Ad'?'Ad26.COV2.S':datum.value=='mR'?'mRNA-1273':'BNT162b2'"}}},
"spec":{"width":92,"height":255,"resolve":{"axis":{"x":"independent"}},"layer":[
{"transform":[{"filter":"isValid(datum.md)"}],"mark":{"type":"rule","color":"#222","strokeWidth":1.5},"encoding":{"x":{"field":"d","type":"quantitative","scale":{"domain":[-7,39],"nice":false,"zero":false},"axis":{"values":[1,15,29],"title":null,"orient":"bottom"}},"y":{"field":"lo","type":"quantitative","scale":{"type":"log","domain":[0.05,130000],"nice":false},"axis":{"values":[0.1,0.2,0.3,0.4,0.5,0.6,0.7,0.8,0.9,1,2,3,4,5,6,7,8,9,10,20,30,40,50,60,70,80,90,100,200,300,400,500,600,700,800,900,1000,2000,3000,4000,5000,6000,7000,8000,9000,10000,20000,30000,40000,50000,60000,70000,80000,90000],"title":["Binding Antibody against","WA1 S-2P (BAU/ml)"]}},"y2":{"field":"hi"}}},
{"transform":[{"filter":"isValid(datum.md)"}],"mark":{"type":"bar","size":22,"stroke":"#444","strokeWidth":1.5},"encoding":{"x":{"field":"d","type":"quantitative","axis":null},"y":{"field":"q1","type":"quantitative"},"y2":{"field":"q3"},"color":{"field":"d","type":"nominal","scale":{"domain":[1,15,29],"range":["#F5C983","#94B2E0","#EA9272"]},"legend":null}}},
{"transform":[{"filter":"isValid(datum.v)"}],"mark":{"type":"circle","size":26},"encoding":{"x":{"field":"d","type":"quantitative","axis":null},"xOffset":{"field":"k","type":"nominal","scale":{"type":"point","range":[-7,7],"padding":0}},"y":{"field":"v","type":"quantitative"},"color":{"condition":{"test":"datum.r==1","value":"#F26B45"},"value":"#333"},"opacity":{"condition":{"test":"datum.r==1","value":1},"value":0.65}}},
{"transform":[{"filter":"isValid(datum.md)"}],"mark":{"type":"tick","orient":"horizontal","thickness":4,"size":24,"color":"#111"},"encoding":{"x":{"field":"d","type":"quantitative","axis":{"orient":"top","values":[-7],"grid":true,"gridColor":"#222","gridWidth":1.5,"domain":false,"ticks":false,"labels":false,"title":null}},"y":{"field":"md","type":"quantitative"}}}
]}},
{"data":{"name":"AN"},"spacing":6,"facet":{"column":{"field":"p","type":"nominal","sort":["Ad","mR","BN"],"title":"Trial Day","header":{"titleOrient":"bottom","labelOrient":"top","labelExpr":"datum.value=='Ad'?'Ad26.COV2.S':datum.value=='mR'?'mRNA-1273':'BNT162b2'"}}},
"spec":{"width":92,"height":252,"resolve":{"axis":{"x":"independent"}},"layer":[
{"transform":[{"filter":"isValid(datum.md)"}],"mark":{"type":"rule","color":"#222","strokeWidth":1.5},"encoding":{"x":{"field":"d","type":"quantitative","scale":{"domain":[-7,39],"nice":false,"zero":false},"axis":{"values":[1,15,29],"title":null,"orient":"bottom"}},"y":{"field":"lo","type":"quantitative","scale":{"type":"log","domain":[0.63,24000],"nice":false},"axis":{"values":[1,2,3,4,5,6,7,8,9,10,20,30,40,50,60,70,80,90,100,200,300,400,500,600,700,800,900,1000,2000,3000,4000,5000,6000,7000,8000,9000,10000],"title":["Neutralizing Antibody against","D614G (IU50/ml)"]}},"y2":{"field":"hi"}}},
{"transform":[{"filter":"isValid(datum.md)"}],"mark":{"type":"bar","size":22,"stroke":"#444","strokeWidth":1.5},"encoding":{"x":{"field":"d","type":"quantitative","axis":null},"y":{"field":"q1","type":"quantitative"},"y2":{"field":"q3"},"color":{"field":"d","type":"nominal","scale":{"domain":[1,15,29],"range":["#F5C983","#94B2E0","#EA9272"]},"legend":null}}},
{"transform":[{"filter":"isValid(datum.v)"}],"mark":{"type":"circle","size":26},"encoding":{"x":{"field":"d","type":"quantitative","axis":null},"xOffset":{"field":"k","type":"nominal","scale":{"type":"point","range":[-7,7],"padding":0}},"y":{"field":"v","type":"quantitative"},"color":{"condition":{"test":"datum.r==1","value":"#F26B45"},"value":"#333"},"opacity":{"condition":{"test":"datum.r==1","value":1},"value":0.65}}},
{"transform":[{"filter":"isValid(datum.md)"}],"mark":{"type":"tick","orient":"horizontal","thickness":4,"size":24,"color":"#111"},"encoding":{"x":{"field":"d","type":"quantitative","axis":{"orient":"top","values":[-7],"grid":true,"gridColor":"#222","gridWidth":1.5,"domain":false,"ticks":false,"labels":false,"title":null}},"y":{"field":"md","type":"quantitative"}}}
]}}
]}
]},
{"width":3,"height":720,"data":{"values":[{}]},"mark":{"type":"point","opacity":0,"size":0,"strokeWidth":0},"encoding":{},"view":{"fill":"#858585","stroke":null}},
{"spacing":0,"vconcat":[
{"width":1,"height":10,"data":{"values":[{}]},"mark":{"type":"point","opacity":0,"size":0,"strokeWidth":0},"encoding":{}},
{"title":{"text":"B\u2003Ad26.COV2.S Booster"},"spacing":27,"vconcat":[
{"data":{"name":"BB"},"spacing":6,"facet":{"column":{"field":"p","type":"nominal","sort":["Ad","mR","BN"],"title":null,"header":{"labelExpr":"datum.value=='Ad'?'Ad26.COV2.S':datum.value=='mR'?'mRNA-1273':'BNT162b2'"}}},
"spec":{"width":92,"height":255,"resolve":{"axis":{"x":"independent"}},"layer":[
{"transform":[{"filter":"isValid(datum.md)"}],"mark":{"type":"rule","color":"#222","strokeWidth":1.5},"encoding":{"x":{"field":"d","type":"quantitative","scale":{"domain":[-7,39],"nice":false,"zero":false},"axis":{"values":[1,15,29],"title":null,"orient":"bottom"}},"y":{"field":"lo","type":"quantitative","scale":{"type":"log","domain":[0.05,130000],"nice":false},"axis":{"values":[0.1,0.2,0.3,0.4,0.5,0.6,0.7,0.8,0.9,1,2,3,4,5,6,7,8,9,10,20,30,40,50,60,70,80,90,100,200,300,400,500,600,700,800,900,1000,2000,3000,4000,5000,6000,7000,8000,9000,10000,20000,30000,40000,50000,60000,70000,80000,90000],"title":["Binding Antibody against","WA1 S-2P (BAU/ml)"]}},"y2":{"field":"hi"}}},
{"transform":[{"filter":"isValid(datum.md)"}],"mark":{"type":"bar","size":22,"stroke":"#444","strokeWidth":1.5},"encoding":{"x":{"field":"d","type":"quantitative","axis":null},"y":{"field":"q1","type":"quantitative"},"y2":{"field":"q3"},"color":{"field":"d","type":"nominal","scale":{"domain":[1,15,29],"range":["#F5C983","#94B2E0","#EA9272"]},"legend":null}}},
{"transform":[{"filter":"isValid(datum.v)"}],"mark":{"type":"circle","size":26},"encoding":{"x":{"field":"d","type":"quantitative","axis":null},"xOffset":{"field":"k","type":"nominal","scale":{"type":"point","range":[-7,7],"padding":0}},"y":{"field":"v","type":"quantitative"},"color":{"condition":{"test":"datum.r==1","value":"#F26B45"},"value":"#333"},"opacity":{"condition":{"test":"datum.r==1","value":1},"value":0.65}}},
{"transform":[{"filter":"isValid(datum.md)"}],"mark":{"type":"tick","orient":"horizontal","thickness":4,"size":24,"color":"#111"},"encoding":{"x":{"field":"d","type":"quantitative","axis":{"orient":"top","values":[-7],"grid":true,"gridColor":"#222","gridWidth":1.5,"domain":false,"ticks":false,"labels":false,"title":null}},"y":{"field":"md","type":"quantitative"}}}
]}},
{"data":{"name":"BN"},"spacing":6,"facet":{"column":{"field":"p","type":"nominal","sort":["Ad","mR","BN"],"title":"Trial Day","header":{"titleOrient":"bottom","labelOrient":"top","labelExpr":"datum.value=='Ad'?'Ad26.COV2.S':datum.value=='mR'?'mRNA-1273':'BNT162b2'"}}},
"spec":{"width":92,"height":252,"resolve":{"axis":{"x":"independent"}},"layer":[
{"transform":[{"filter":"isValid(datum.md)"}],"mark":{"type":"rule","color":"#222","strokeWidth":1.5},"encoding":{"x":{"field":"d","type":"quantitative","scale":{"domain":[-7,39],"nice":false,"zero":false},"axis":{"values":[1,15,29],"title":null,"orient":"bottom"}},"y":{"field":"lo","type":"quantitative","scale":{"type":"log","domain":[0.63,24000],"nice":false},"axis":{"values":[1,2,3,4,5,6,7,8,9,10,20,30,40,50,60,70,80,90,100,200,300,400,500,600,700,800,900,1000,2000,3000,4000,5000,6000,7000,8000,9000,10000],"title":["Neutralizing Antibody against","D614G (IU50/ml)"]}},"y2":{"field":"hi"}}},
{"transform":[{"filter":"isValid(datum.md)"}],"mark":{"type":"bar","size":22,"stroke":"#444","strokeWidth":1.5},"encoding":{"x":{"field":"d","type":"quantitative","axis":null},"y":{"field":"q1","type":"quantitative"},"y2":{"field":"q3"},"color":{"field":"d","type":"nominal","scale":{"domain":[1,15,29],"range":["#F5C983","#94B2E0","#EA9272"]},"legend":null}}},
{"transform":[{"filter":"isValid(datum.v)"}],"mark":{"type":"circle","size":26},"encoding":{"x":{"field":"d","type":"quantitative","axis":null},"xOffset":{"field":"k","type":"nominal","scale":{"type":"point","range":[-7,7],"padding":0}},"y":{"field":"v","type":"quantitative"},"color":{"condition":{"test":"datum.r==1","value":"#F26B45"},"value":"#333"},"opacity":{"condition":{"test":"datum.r==1","value":1},"value":0.65}}},
{"transform":[{"filter":"isValid(datum.md)"}],"mark":{"type":"tick","orient":"horizontal","thickness":4,"size":24,"color":"#111"},"encoding":{"x":{"field":"d","type":"quantitative","axis":{"orient":"top","values":[-7],"grid":true,"gridColor":"#222","gridWidth":1.5,"domain":false,"ticks":false,"labels":false,"title":null}},"y":{"field":"md","type":"quantitative"}}}
]}}
]}
]},
{"width":3,"height":720,"data":{"values":[{}]},"mark":{"type":"point","opacity":0,"size":0,"strokeWidth":0},"encoding":{},"view":{"fill":"#858585","stroke":null}},
{"spacing":0,"vconcat":[
{"width":1,"height":10,"data":{"values":[{}]},"mark":{"type":"point","opacity":0,"size":0,"strokeWidth":0},"encoding":{}},
{"title":{"text":"C\u2003BNT162b2 Booster"},"spacing":27,"vconcat":[
{"data":{"name":"CB"},"spacing":6,"facet":{"column":{"field":"p","type":"nominal","sort":["Ad","mR","BN"],"title":null,"header":{"labelExpr":"datum.value=='Ad'?'Ad26.COV2.S':datum.value=='mR'?'mRNA-1273':'BNT162b2'"}}},
"spec":{"width":92,"height":255,"resolve":{"axis":{"x":"independent"}},"layer":[
{"transform":[{"filter":"isValid(datum.md)"}],"mark":{"type":"rule","color":"#222","strokeWidth":1.5},"encoding":{"x":{"field":"d","type":"quantitative","scale":{"domain":[-7,39],"nice":false,"zero":false},"axis":{"values":[1,15,29],"title":null,"orient":"bottom"}},"y":{"field":"lo","type":"quantitative","scale":{"type":"log","domain":[0.05,130000],"nice":false},"axis":{"values":[0.1,0.2,0.3,0.4,0.5,0.6,0.7,0.8,0.9,1,2,3,4,5,6,7,8,9,10,20,30,40,50,60,70,80,90,100,200,300,400,500,600,700,800,900,1000,2000,3000,4000,5000,6000,7000,8000,9000,10000,20000,30000,40000,50000,60000,70000,80000,90000],"title":["Binding Antibody against","WA1 S-2P (BAU/ml)"]}},"y2":{"field":"hi"}}},
{"transform":[{"filter":"isValid(datum.md)"}],"mark":{"type":"bar","size":22,"stroke":"#444","strokeWidth":1.5},"encoding":{"x":{"field":"d","type":"quantitative","axis":null},"y":{"field":"q1","type":"quantitative"},"y2":{"field":"q3"},"color":{"field":"d","type":"nominal","scale":{"domain":[1,15,29],"range":["#F5C983","#94B2E0","#EA9272"]},"legend":null}}},
{"transform":[{"filter":"isValid(datum.v)"}],"mark":{"type":"circle","size":26},"encoding":{"x":{"field":"d","type":"quantitative","axis":null},"xOffset":{"field":"k","type":"nominal","scale":{"type":"point","range":[-7,7],"padding":0}},"y":{"field":"v","type":"quantitative"},"color":{"condition":{"test":"datum.r==1","value":"#F26B45"},"value":"#333"},"opacity":{"condition":{"test":"datum.r==1","value":1},"value":0.65}}},
{"transform":[{"filter":"isValid(datum.md)"}],"mark":{"type":"tick","orient":"horizontal","thickness":4,"size":24,"color":"#111"},"encoding":{"x":{"field":"d","type":"quantitative","axis":{"orient":"top","values":[-7],"grid":true,"gridColor":"#222","gridWidth":1.5,"domain":false,"ticks":false,"labels":false,"title":null}},"y":{"field":"md","type":"quantitative"}}}
]}},
{"data":{"name":"CN"},"spacing":6,"facet":{"column":{"field":"p","type":"nominal","sort":["Ad","mR","BN"],"title":"Trial Day","header":{"titleOrient":"bottom","labelOrient":"top","labelExpr":"datum.value=='Ad'?'Ad26.COV2.S':datum.value=='mR'?'mRNA-1273':'BNT162b2'"}}},
"spec":{"width":92,"height":252,"resolve":{"axis":{"x":"independent"}},"layer":[
{"transform":[{"filter":"isValid(datum.md)"}],"mark":{"type":"rule","color":"#222","strokeWidth":1.5},"encoding":{"x":{"field":"d","type":"quantitative","scale":{"domain":[-7,39],"nice":false,"zero":false},"axis":{"values":[1,15,29],"title":null,"orient":"bottom"}},"y":{"field":"lo","type":"quantitative","scale":{"type":"log","domain":[0.63,24000],"nice":false},"axis":{"values":[1,2,3,4,5,6,7,8,9,10,20,30,40,50,60,70,80,90,100,200,300,400,500,600,700,800,900,1000,2000,3000,4000,5000,6000,7000,8000,9000,10000],"title":["Neutralizing Antibody against","D614G (IU50/ml)"]}},"y2":{"field":"hi"}}},
{"transform":[{"filter":"isValid(datum.md)"}],"mark":{"type":"bar","size":22,"stroke":"#444","strokeWidth":1.5},"encoding":{"x":{"field":"d","type":"quantitative","axis":null},"y":{"field":"q1","type":"quantitative"},"y2":{"field":"q3"},"color":{"field":"d","type":"nominal","scale":{"domain":[1,15,29],"range":["#F5C983","#94B2E0","#EA9272"]},"legend":null}}},
{"transform":[{"filter":"isValid(datum.v)"}],"mark":{"type":"circle","size":26},"encoding":{"x":{"field":"d","type":"quantitative","axis":null},"xOffset":{"field":"k","type":"nominal","scale":{"type":"point","range":[-7,7],"padding":0}},"y":{"field":"v","type":"quantitative"},"color":{"condition":{"test":"datum.r==1","value":"#F26B45"},"value":"#333"},"opacity":{"condition":{"test":"datum.r==1","value":1},"value":0.65}}},
{"transform":[{"filter":"isValid(datum.md)"}],"mark":{"type":"tick","orient":"horizontal","thickness":4,"size":24,"color":"#111"},"encoding":{"x":{"field":"d","type":"quantitative","axis":{"orient":"top","values":[-7],"grid":true,"gridColor":"#222","gridWidth":1.5,"domain":false,"ticks":false,"labels":false,"title":null}},"y":{"field":"md","type":"quantitative"}}}
]}}
]}
]},
{"width":2,"height":720,"data":{"values":[{}]},"mark":{"type":"point","opacity":0,"size":0,"strokeWidth":0},"encoding":{},"view":{"fill":"#858585","stroke":null}}
]}
],
"config":{
"font":"Open Sans",
"view":{"stroke":null},
"axis":{"domainColor":"#222","domainWidth":1.5,"tickColor":"#222","labelColor":"#222","labelFont":"Open Sans","labelFontSize":16.5,"titleFont":"Open Sans","titleFontWeight":"bold","titleFontSize":17,"titleColor":"#222","labelOverlap":false,"labelBound":false,"labelFlush":false},
"axisX":{"grid":false,"tickSize":8,"tickWidth":1.5,"labelPadding":2},
"axisY":{"grid":false,"tickSize":7,"tickWidth":{"condition":{"test":"indexof([0.1,1,10,100,1000,10000],datum.value)>=0","value":3},"value":1},"labelExpr":"datum.value==0.1?'10⁻¹':datum.value==1?'10⁰':datum.value==10?'10¹':datum.value==100?'10²':datum.value==1000?'10³':datum.value==10000?'10⁴':''","labelPadding":4,"titlePadding":13,"titleLineHeight":19,"minExtent":44,"maxExtent":44},
"header":{"labelFont":"Open Sans","labelFontSize":14.5,"labelFontWeight":"bold","labelColor":"#222","labelPadding":2,"titleFont":"Open Sans","titleFontSize":17,"titleFontWeight":"bold","titleColor":"#222","titlePadding":8},
"title":{"anchor":"start","font":"Open Sans","fontSize":17,"fontWeight":"bold","color":"#222","offset":15,"dx":-10}
}
}
